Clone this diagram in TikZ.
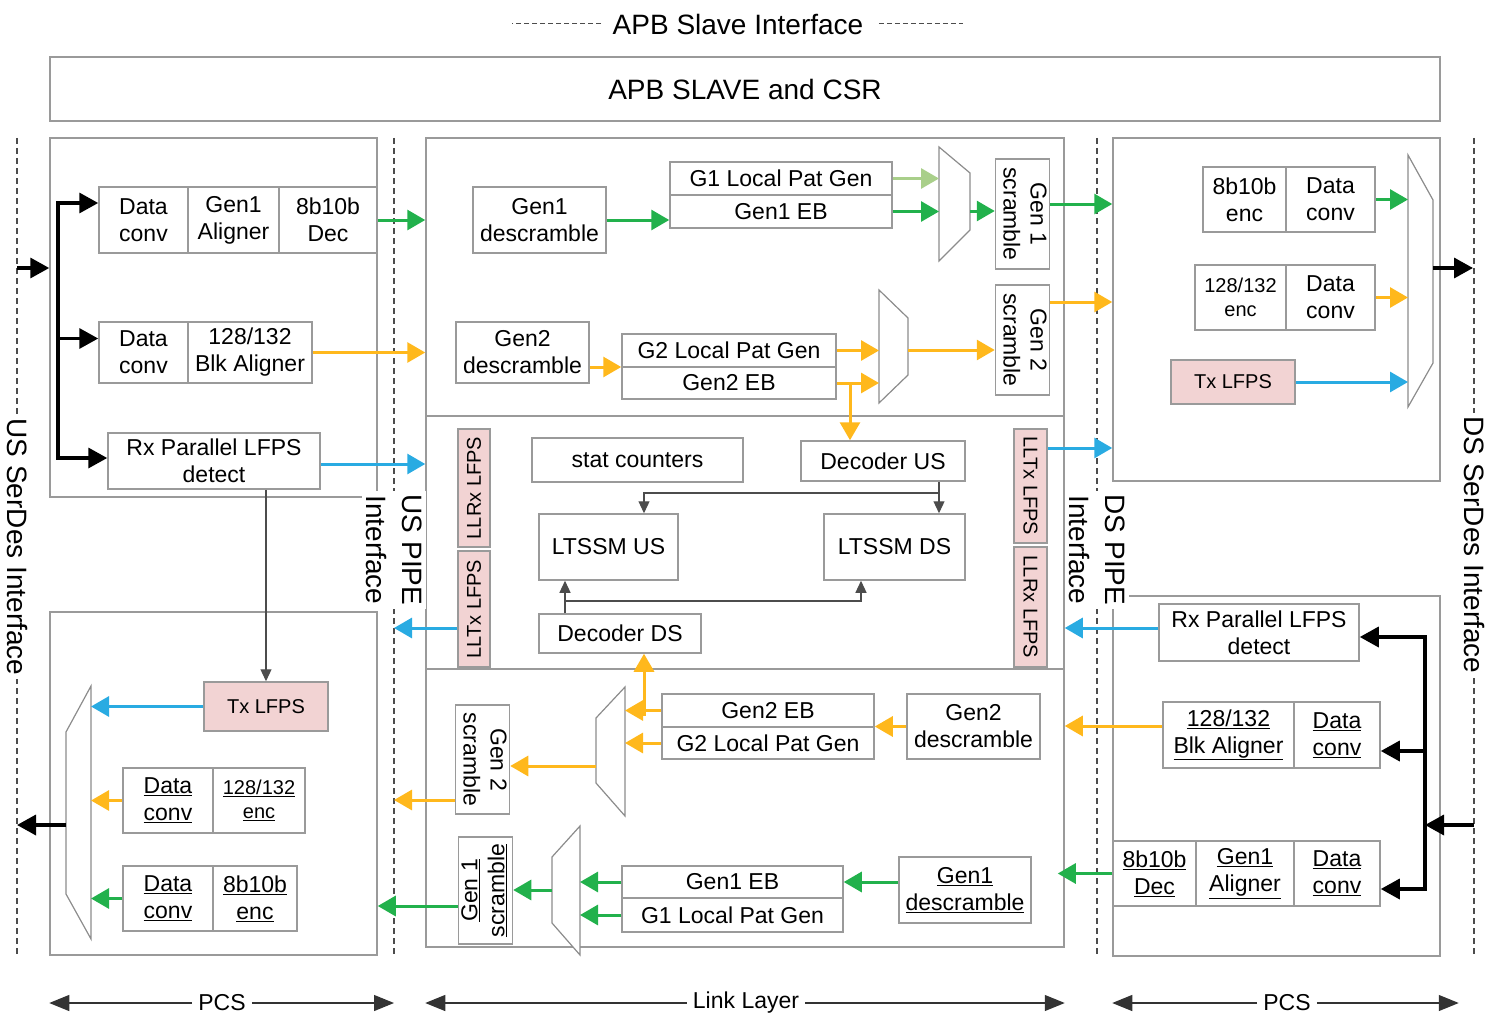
\documentclass[tikz,border=0pt]{standalone}
\usepackage{fontspec}
\usepackage{graphicx}
\setmainfont{Liberation Sans}
\usetikzlibrary{arrows.meta}
\definecolor{boxgray}{HTML}{9A9A9A}
\definecolor{muxgray}{HTML}{8C8C8C}
\definecolor{grn}{HTML}{22B14C}
\definecolor{lgrn}{HTML}{A9CF8A}
\definecolor{orng}{HTML}{FFB81C}
\definecolor{blu}{HTML}{29ABE2}
\definecolor{lfpspink}{HTML}{F2D3D3}
\newcommand{\blkfont}{\fontsize{23}{27}\selectfont}
\newcommand{\smfont}{\fontsize{20}{24}\selectfont}
\newcommand{\ttlfont}{\fontsize{28}{36}\selectfont}
\newcommand{\vtxt}[2]{\rotatebox{#1}{\begin{tabular}{@{}c@{}}#2\end{tabular}}}
\tikzset{
  blk/.style={draw=boxgray,line width=1.5pt,fill=white,align=center,inner sep=0pt,font=\blkfont},
  blksm/.style={blk,font=\smfont},
  lfps/.style={blk,fill=lfpspink,font=\smfont},
  zone/.style={draw=boxgray,line width=1.5pt},
  muxs/.style={draw=muxgray,line width=1.2pt,fill=white},
  grnarr/.style={-{Triangle[length=18pt,width=20pt]},line width=3pt,grn},
  lgrnarr/.style={grnarr,lgrn},
  orarr/.style={grnarr,orng},
  bluarr/.style={grnarr,blu},
  blkarr/.style={-{Triangle[length=19pt,width=20pt]},line width=3.5pt,black},
  thinarr/.style={-{Triangle[length=12pt,width=11pt]},line width=1.2pt,black!70},
  ifline/.style={black!70,line width=1.2pt,dash pattern=on 6pt off 4pt},
  ttldash/.style={black!70,line width=1pt,dash pattern=on 5pt off 3pt},
  iflabel/.style={rotate=-90,fill=white,font=\ttlfont,inner sep=4pt,align=center},
  rng/.style={-{Triangle[length=20pt,width=16pt]},line width=1.2pt,black!80},
}
\begin{document}
\begin{tikzpicture}[x=1pt,y=-1pt]
\useasboundingbox (0,0) rectangle (1499,1014);

% top
\node[font=\ttlfont] (apbif) at (738,24) {APB Slave Interface};
\draw[ttldash] ([xshift=-8pt]apbif.west) -- ++(-89,0);
\draw[ttldash] ([xshift=12pt]apbif.east) -- ++(84,0);
\node[zone,minimum width=1390pt,minimum height=64pt,font=\ttlfont] (apb) at (745,89) {APB SLAVE and CSR};

% interface lines
\coordinate (usser) at (17,547);
\coordinate (uspipe) at (394,550);
\coordinate (dspipe) at (1097,550);
\coordinate (dsser) at (1474,545);
\coordinate (lntop) at (0,138);
\coordinate (lnbot) at (0,957);
\foreach \c in {usser,uspipe,dspipe,dsser}
  \draw[ifline] (\c |- lntop) -- (\c |- lnbot);

% zones
\node[zone,minimum width=327pt,minimum height=359pt] (pcsul) at (213.5,317.5) {};
\node[zone,minimum width=327pt,minimum height=343pt] (pcsll) at (213.5,783.5) {};
\node[zone,minimum width=638pt,minimum height=809pt] (ll) at (745,542.5) {};
\node[zone,minimum width=327pt,minimum height=343pt] (dsu) at (1276.5,309.5) {};
\node[zone,minimum width=327pt,minimum height=360pt] (dsl) at (1276.5,776) {};
\coordinate (div1) at (745,416);
\coordinate (div2) at (745,669);
\draw[zone] (ll.west |- div1) -- (ll.east |- div1);
\draw[zone] (ll.west |- div2) -- (ll.east |- div2);

% US PCS, receive side
\node[blk,minimum width=89pt,minimum height=66pt] (dc1) at (143.5,220) {Data\\conv};
\node[blk,minimum width=91pt,minimum height=66pt] (ga1) at (233.5,220) {Gen1\\Aligner};
\node[blk,minimum width=98pt,minimum height=66pt] (dec1) at (328,220) {8b10b\\Dec};
\node[blk,minimum width=89pt,minimum height=61pt] (dc2) at (143.5,352.5) {Data\\conv};
\node[blk,minimum width=124pt,minimum height=61pt] (ba2) at (250,352.5) {128/132\\Blk Aligner};
\node[blk,minimum width=212pt,minimum height=56pt] (rxu) at (214,461) {Rx Parallel LFPS\\detect};

% US PCS, transmit side
\node[lfps,minimum width=124pt,minimum height=49pt] (txu) at (266,706.5) {Tx LFPS};
\node[blk,minimum width=90pt,minimum height=65pt] (dc3) at (168,800.5) {\underline{Data}\\\underline{conv}};
\node[blksm,minimum width=92pt,minimum height=65pt] (enc3) at (259,800.5) {\underline{128/132}\\\underline{enc}};
\node[blk,minimum width=90pt,minimum height=65pt] (dc4) at (168,898.5) {\underline{Data}\\\underline{conv}};
\node[blk,minimum width=84pt,minimum height=65pt] (enc4) at (255,898.5) {\underline{8b10b}\\\underline{enc}};
\draw[muxs] (91,686) -- (91,939) -- (66,894) -- (66,732) -- cycle;
\coordinate (m6in) at (91,812);
\coordinate (m6out) at (66,825);

% link layer, upstream path
\node[blk,minimum width=133pt,minimum height=66pt] (gdes1) at (539.5,220) {Gen1\\descramble};
\node[blk,minimum width=222pt,minimum height=33pt] (lpg1) at (781,178.5) {G1 Local Pat Gen};
\node[blk,minimum width=222pt,minimum height=33pt] (eb1) at (781,211.5) {Gen1 EB};
\draw[muxs] (939,147) -- (970,173) -- (970,230) -- (939,261) -- cycle;
\coordinate (m1in) at (939,204);
\coordinate (m1out) at (970,211);
\node[blk,minimum width=49pt,minimum height=110pt] (sc1) at (1022.5,214) {\vtxt{-90}{Gen 1\\scramble}};
\node[blk,minimum width=133pt,minimum height=61pt] (gdes2) at (522.5,352.5) {Gen2\\descramble};
\node[blk,minimum width=214pt,minimum height=33pt] (lpg2) at (729,350.5) {G2 Local Pat Gen};
\node[blk,minimum width=214pt,minimum height=32pt] (eb2) at (729,383) {Gen2 EB};
\draw[muxs] (879,290) -- (908,318) -- (908,375) -- (879,403) -- cycle;
\coordinate (m2in) at (879,350);
\coordinate (m2out) at (908,350);
\node[blk,minimum width=49pt,minimum height=110pt] (sc2) at (1022.5,340) {\vtxt{-90}{Gen 2\\scramble}};

% link layer, control
\node[lfps,minimum width=32pt,minimum height=118pt] (llrxl) at (474,488) {\rotatebox{90}{LLRx LFPS}};
\node[lfps,minimum width=32pt,minimum height=116pt] (lltxl) at (474,609) {\rotatebox{90}{LLTx LFPS}};
\node[blk,minimum width=211pt,minimum height=44pt] (stat) at (637.5,460) {stat counters};
\node[blk,minimum width=164pt,minimum height=40pt] (decus) at (883,461) {Decoder US};
\node[blk,minimum width=139pt,minimum height=66pt] (ltus) at (608.5,547) {LTSSM US};
\node[blk,minimum width=141pt,minimum height=66pt] (ltds) at (894.5,547) {LTSSM DS};
\node[blk,minimum width=162pt,minimum height=39pt] (decds) at (620,633.5) {Decoder DS};
\node[lfps,minimum width=33pt,minimum height=114pt] (lltxr) at (1030.5,486) {\rotatebox{-90}{LLTx LFPS}};
\node[lfps,minimum width=33pt,minimum height=120pt] (llrxr) at (1030.5,607) {\rotatebox{-90}{LLRx LFPS}};

% link layer, downstream path
\node[blk,minimum width=212pt,minimum height=33pt] (eb2b) at (768,710.5) {Gen2 EB};
\node[blk,minimum width=212pt,minimum height=32pt] (lpg2b) at (768,743) {G2 Local Pat Gen};
\node[blk,minimum width=133pt,minimum height=65pt] (gdes2b) at (973.5,726.5) {Gen2\\descramble};
\draw[muxs] (625,687) -- (625,816) -- (596,783) -- (596,718) -- cycle;
\coordinate (m3in) at (625,730);
\coordinate (m3out) at (596,766);
\node[blk,minimum width=49pt,minimum height=109pt] (sc2b) at (482.5,759.5) {\vtxt{-90}{Gen 2\\scramble}};
\node[blk,minimum width=221pt,minimum height=32pt] (eb1b) at (732.5,882) {Gen1 EB};
\node[blk,minimum width=221pt,minimum height=34pt] (lpg1b) at (732.5,915) {G1 Local Pat Gen};
\node[blk,minimum width=132pt,minimum height=66pt] (gdes1b) at (965,890) {\underline{Gen1}\\\underline{descramble}};
\draw[muxs] (580,826) -- (580,955) -- (552,923) -- (552,857) -- cycle;
\coordinate (m4in) at (580,900);
\coordinate (m4out) at (552,890);
\node[blk,minimum width=49pt,minimum height=107pt] (sc1b) at (485.5,890.5) {\vtxt{90}{\underline{Gen 1}\\\underline{scramble}}};

% DS PCS, transmit side
\node[blk,minimum width=83pt,minimum height=65pt] (enc5) at (1244.5,199.5) {8b10b\\enc};
\node[blk,minimum width=89pt,minimum height=65pt] (dc5) at (1330.5,199.5) {Data\\conv};
\node[blksm,minimum width=91pt,minimum height=65pt] (enc6) at (1240.5,297.5) {128/132\\enc};
\node[blk,minimum width=89pt,minimum height=65pt] (dc6) at (1330.5,297.5) {Data\\conv};
\node[lfps,minimum width=124pt,minimum height=44pt] (txd) at (1233,382) {Tx LFPS};
\draw[muxs] (1408,155) -- (1433,200) -- (1433,363) -- (1408,407) -- cycle;
\coordinate (m5in) at (1408,280);
\coordinate (m5out) at (1433,268);

% DS PCS, receive side
\node[blk,minimum width=200pt,minimum height=57pt] (dsrx) at (1259,632.5) {Rx Parallel LFPS\\detect};
\node[blk,minimum width=131pt,minimum height=66pt] (dsba) at (1228.5,735) {\underline{128/132}\\\underline{Blk Aligner}};
\node[blk,minimum width=86pt,minimum height=66pt] (dsdc1) at (1337,735) {\underline{Data}\\\underline{conv}};
\node[blk,minimum width=83pt,minimum height=65pt] (dsdec) at (1154.5,873.5) {\underline{8b10b}\\\underline{Dec}};
\node[blk,minimum width=98pt,minimum height=65pt] (dsga) at (1245,873.5) {\underline{Gen1}\\\underline{Aligner}};
\node[blk,minimum width=86pt,minimum height=65pt] (dsdc2) at (1337,873.5) {\underline{Data}\\\underline{conv}};

% US serdes bus
\coordinate (usin) at (17,268);
\coordinate (usbus) at (58,268);
\draw[blkarr] (usin) -- (usin -| pcsul.west);
\draw[blkarr] (usbus) |- ([yshift=17pt]dc1.west);
\draw[blkarr] (usbus) |- ([yshift=14pt]dc2.west);
\draw[blkarr] (usbus) |- ([yshift=3pt]rxu.west);
\draw[grnarr] (dec1.east) -- (dec1.east -| ll.west);
\draw[orarr] (ba2.east) -- (ba2.east -| ll.west);
\draw[bluarr] ([yshift=-3pt]rxu.east) -- ([yshift=-3pt]rxu.east -| ll.west);
\draw[thinarr] (rxu.south -| txu.north) -- (txu.north);

% US transmit
\coordinate (usout) at (17,825);
\draw[bluarr] (txu.west) -- (txu.west -| m6in);
\draw[orarr] (dc3.west) -- (dc3.west -| m6in);
\draw[grnarr] (dc4.west) -- (dc4.west -| m6in);
\draw[blkarr] (m6out) -- (usout);

% upstream path
\draw[grnarr] (gdes1.east) -- (gdes1.east -| eb1.west);
\draw[lgrnarr] (lpg1.east) -- (lpg1.east -| m1in);
\draw[grnarr] (eb1.east) -- (eb1.east -| m1in);
\draw[grnarr] (m1out) -- (m1out -| sc1.west);
\draw[grnarr] ([yshift=10pt]sc1.east) -- ([yshift=10pt]sc1.east -| dsu.west);
\draw[orarr] ([yshift=-14.5pt]gdes2.east) -- ([yshift=-14.5pt]gdes2.east -| lpg2.west);
\draw[orarr] (lpg2.east) -- (lpg2.east -| m2in);
\draw[orarr] (eb2.east) -- (eb2.east -| m2in);
\draw[orarr] (m2out) -- (m2out -| sc2.west);
\draw[orarr] ([yshift=38pt]sc2.east) -- ([yshift=38pt]sc2.east -| dsu.west);
\coordinate (e2tap) at (850,383);
\draw[orarr] (e2tap) -- (e2tap |- decus.north);

% LTSSM links
\coordinate (dsplit) at (939,493);
\coordinate (usplit) at (565,601);
\draw[thinarr] ([xshift=56pt]decus.south) -- (dsplit) -| ([xshift=35.5pt]ltus.north);
\draw[thinarr] (dsplit) -- (dsplit |- ltds.north);
\draw[thinarr] ([xshift=-55pt]decds.north) -- ([xshift=-43.5pt]ltus.south);
\draw[thinarr] (usplit) -| ([xshift=-33.5pt]ltds.south);
\draw[bluarr] ([yshift=-19pt]lltxl.west) -- ([yshift=-19pt]lltxl.west -| uspipe);
\draw[bluarr] ([yshift=38pt]lltxr.east) -- ([yshift=38pt]lltxr.east -| dsu.west);
\draw[bluarr] ([yshift=4.5pt]dsrx.west) -- ([yshift=4.5pt]dsrx.west -| ll.east);

% downstream path
\draw[orarr] ([yshift=9pt]dsba.west) -- ([yshift=9pt]dsba.west -| ll.east);
\draw[orarr] (gdes2b.west) -- (gdes2b.west -| eb2b.east);
\draw[orarr] (eb2b.west) -- (eb2b.west -| m3in);
\draw[orarr] (lpg2b.west) -- (lpg2b.west -| m3in);
\draw[orarr] (m3out) -- (m3out -| sc2b.east);
\draw[orarr] ([yshift=-40.5pt]sc2b.west) -- ([yshift=-40.5pt]sc2b.west -| uspipe);
\coordinate (e2btap) at (644,716);
\draw[orarr] (e2btap) -- (e2btap |- decds.south);
\draw[grnarr] (dsdec.west) -- ([xshift=-7pt]dsdec.west -| ll.east);
\draw[grnarr] (eb1b.east -| gdes1b.west) -- (eb1b.east);
\draw[grnarr] (eb1b.west) -- (eb1b.west -| m4in);
\draw[grnarr] (lpg1b.west) -- (lpg1b.west -| m4in);
\draw[grnarr] (m4out) -- (m4out -| sc1b.east);
\draw[grnarr] ([yshift=-15.5pt]sc1b.west) -- ([yshift=-15.5pt]sc1b.west -| pcsll.east);

% DS transmit
\coordinate (dsout) at (1473,268);
\draw[grnarr] (dc5.east) -- (dc5.east -| m5in);
\draw[orarr] (dc6.east) -- (dc6.east -| m5in);
\draw[bluarr] (txd.east) -- (txd.east -| m5in);
\draw[blkarr] (m5out) -- (dsout);

% DS serdes bus
\coordinate (dsin) at (1474,825);
\coordinate (dsbus) at (1425,825);
\draw[blkarr] (dsin) -- (dsbus);
\draw[blkarr] (dsbus) |- ([yshift=-4.5pt]dsrx.east);
\draw[blkarr] (dsbus) |- ([yshift=-16pt]dsdc1.east);
\draw[blkarr] (dsbus) |- ([yshift=-15.5pt]dsdc2.east);

% interface labels
\node[iflabel] (uslbl) at (uspipe) {US PIPE\\Interface};
\node[iflabel] (dslbl) at (dspipe) {DS PIPE\\Interface};
\node[iflabel] (ussd) at (usser) {US SerDes Interface};
\node[iflabel] (dssd) at (dsser) {DS SerDes Interface};

% ranges
\node[font=\blkfont,inner sep=6pt] (pcs1) at (222,1003) {PCS};
\node[font=\blkfont,inner sep=6pt] (lnk) at (746,1003) {Link Layer};
\node[font=\blkfont,inner sep=6pt] (pcs2) at (1287,1003) {PCS};
\draw[rng] (pcs1.west) -- (pcs1.west -| pcsul.west);
\draw[rng] (pcs1.east) -- (pcs1.east -| uspipe);
\draw[rng] (lnk.west) -- (lnk.west -| ll.west);
\draw[rng] (lnk.east) -- (lnk.east -| ll.east);
\draw[rng] (pcs2.west) -- (pcs2.west -| dsl.west);
\draw[rng] (pcs2.east) -- ([xshift=18pt]pcs2.east -| dsl.east);
\end{tikzpicture}
\end{document}
